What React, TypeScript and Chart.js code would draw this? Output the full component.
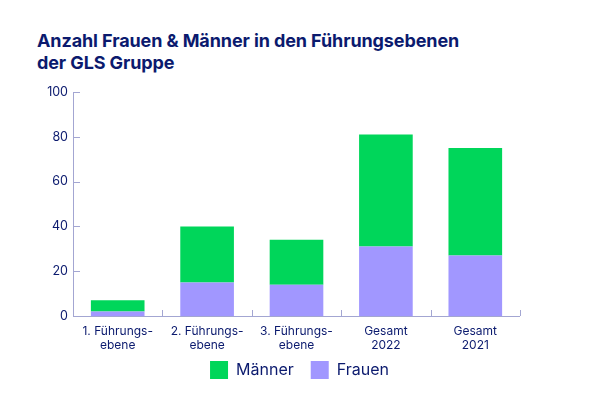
import React, { useEffect, useRef } from "react";
import { Chart, registerables } from "chart.js";

Chart.register(...registerables);

const categories: string[][] = [
  ["1. Führungs-", "ebene"],
  ["2. Führungs-", "ebene"],
  ["3. Führungs-", "ebene"],
  ["Gesamt", "2022"],
  ["Gesamt", "2021"],
];
const frauen = [2, 15, 14, 31, 27];
const maenner = [5, 25, 20, 50, 48];
const yTicks = [0, 20, 40, 60, 80, 100];

const NAVY = "#0b1a6e";
const AXIS = "#a3a6d2";
const GREEN = "#00d65a";
const PURPLE = "#a197ff";
const FONT = "Inter, 'Open Sans', sans-serif";

const innerTicks = {
  id: "innerTicks",
  afterDraw(chart: any) {
    const { ctx, chartArea, scales } = chart;
    const x = scales.x;
    const y = scales.y;
    ctx.save();
    ctx.strokeStyle = AXIS;
    ctx.lineWidth = 1;
    ctx.beginPath();
    ctx.moveTo(chartArea.left + 0.5, chartArea.top);
    ctx.lineTo(chartArea.left + 0.5, chartArea.bottom + 0.5);
    ctx.lineTo(chartArea.right, chartArea.bottom + 0.5);
    yTicks.forEach((v) => {
      const py = Math.round(y.getPixelForValue(v)) + 0.5;
      ctx.moveTo(chartArea.left, py);
      ctx.lineTo(chartArea.left + 7, py);
    });
    const n = categories.length;
    for (let i = 0; i < n; i++) {
      const next = i < n - 1 ? x.getPixelForValue(i + 1) : 2 * x.getPixelForValue(i) - x.getPixelForValue(i - 1);
      const px = Math.round((x.getPixelForValue(i) + next) / 2) + 0.5;
      ctx.moveTo(px, chartArea.bottom);
      ctx.lineTo(px, chartArea.bottom - 6);
    }
    ctx.stroke();
    ctx.restore();
  },
};

export default function App() {
  const ref = useRef<HTMLCanvasElement>(null);
  useEffect(() => {
    if (!ref.current) return;
    const chart = new Chart(ref.current, {
      type: "bar",
      data: {
        labels: categories,
        datasets: [
          { label: "Frauen", data: frauen, backgroundColor: PURPLE, borderWidth: 0, categoryPercentage: 0.6, barPercentage: 1 },
          { label: "Männer", data: maenner, backgroundColor: GREEN, borderWidth: 0, categoryPercentage: 0.6, barPercentage: 1 },
        ],
      },
      options: {
        animation: false,
        responsive: false,
        maintainAspectRatio: false,
        layout: { padding: { top: 92, right: 0, bottom: 10, left: 0 } },
        plugins: {
          legend: {
            position: "bottom",
            reverse: true,
            labels: {
              boxWidth: 18,
              boxHeight: 18,
              padding: 9,
              color: NAVY,
              font: { family: FONT, size: 16 },
              generateLabels: (c: any) => {
                const items = (Chart.defaults.plugins.legend.labels.generateLabels as any)(c);
                items.forEach((it: any) => {
                  it.lineWidth = 0;
                  if (it.text === "Männer") it.text = "Männer\u2002";
                });
                return items;
              },
            },
          },
          tooltip: { enabled: false },
        },
        scales: {
          x: {
            stacked: true,
            border: { display: false },
            grid: { display: false, drawTicks: false },
            afterFit: (s: any) => { s.height = 36; },
            ticks: { color: NAVY, font: { family: FONT, size: 12, lineHeight: 1.2 }, padding: 8, maxRotation: 0, autoSkip: false },
          },
          y: {
            stacked: true,
            min: 0,
            max: 100,
            border: { display: false },
            grid: { display: false, drawTicks: false },
            afterFit: (s: any) => { s.width = 73; },
            ticks: { stepSize: 20, color: NAVY, font: { family: FONT, size: 12.5 }, padding: 5 },
          },
          yRight: {
            position: "right",
            min: 0,
            max: 100,
            border: { display: false },
            grid: { display: false, drawTicks: false },
            ticks: { display: false },
            afterFit: (s: any) => { s.width = 79; },
          },
        },
      },
      plugins: [innerTicks],
    });
    return () => chart.destroy();
  }, []);
  return (
    <div style={{ position: "fixed", left: 0, top: 0, width: 599, height: 399, background: "#fff" }}>
      <div style={{ position: "absolute", left: 37, top: 30, fontFamily: FONT, fontWeight: 700, fontSize: 18, lineHeight: "22px", color: NAVY, letterSpacing: "-0.1px" }}>
        Anzahl Frauen &amp; Männer in den Führungsebenen<br />der GLS Gruppe
      </div>
      <canvas ref={ref} width={599} height={399} style={{ position: "absolute", left: 0, top: 0 }} />
    </div>
  );
}
